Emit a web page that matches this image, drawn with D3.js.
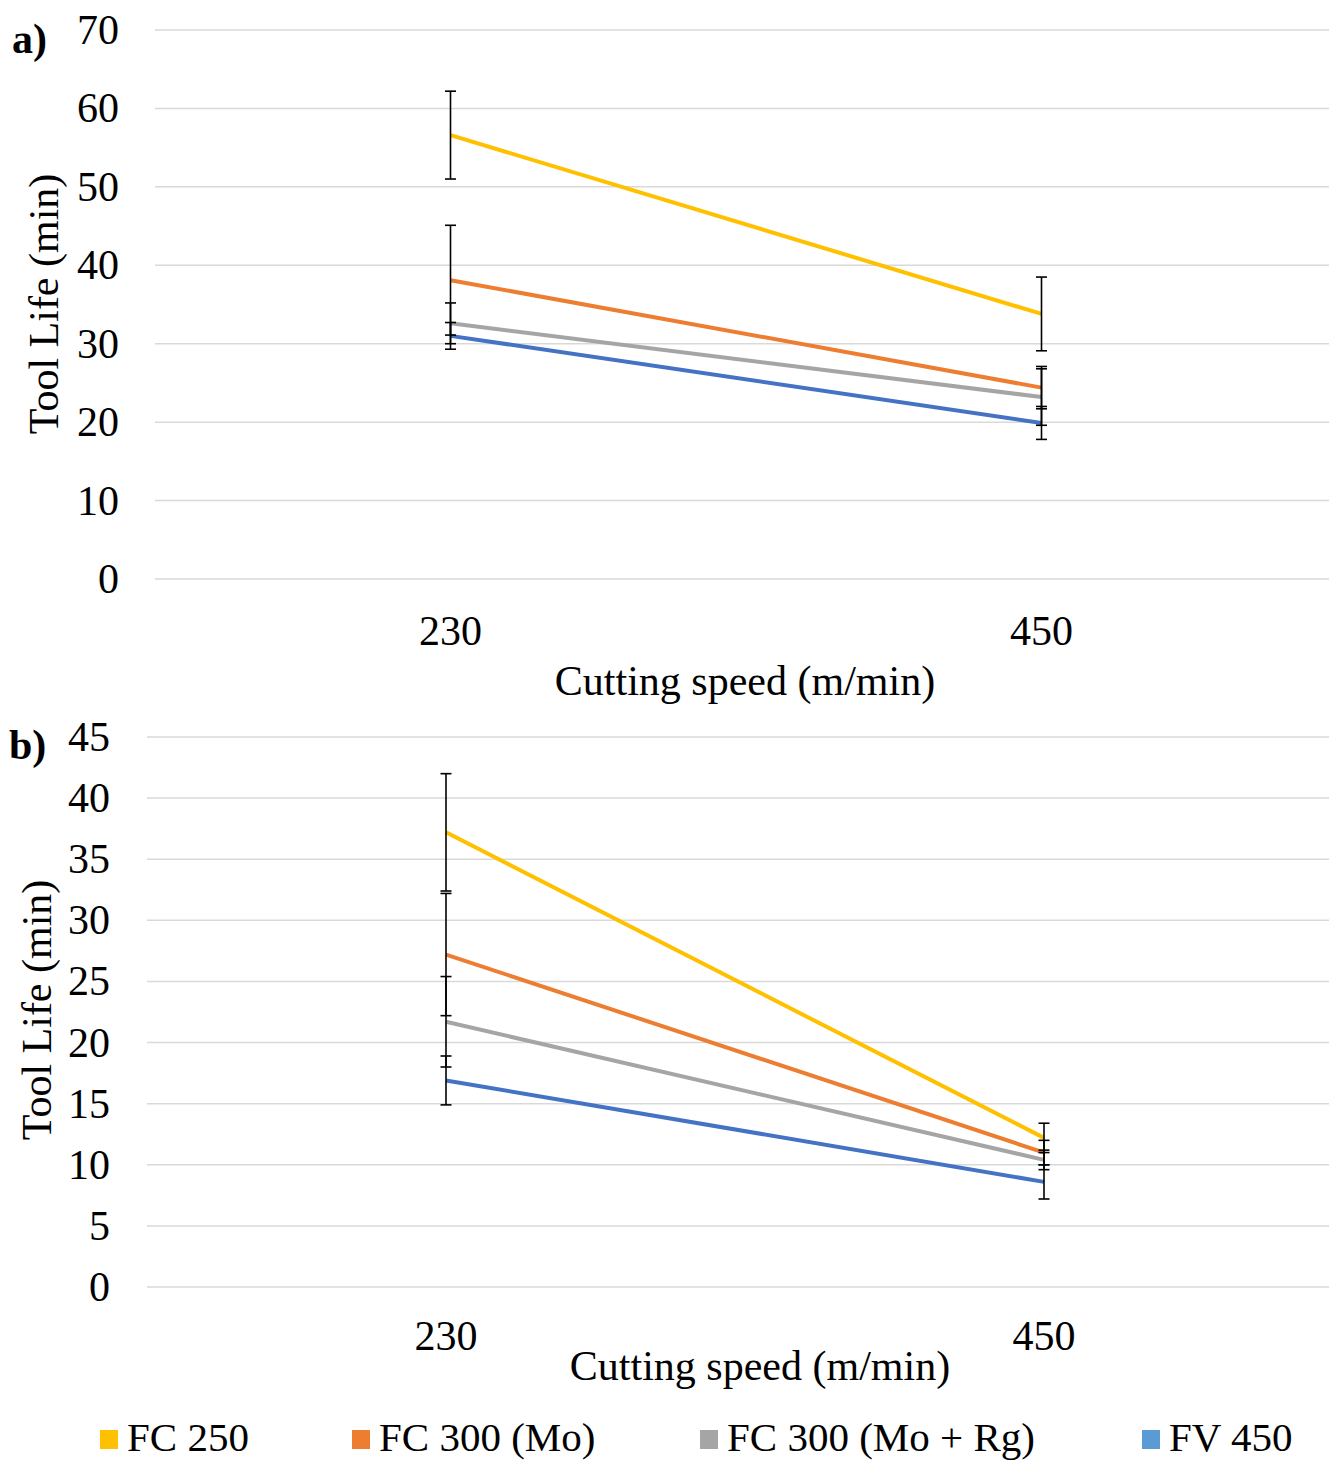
<!DOCTYPE html>
<html>
<head>
<meta charset="utf-8">
<script src="https://cdn.jsdelivr.net/npm/d3@7/dist/d3.min.js"></script>
<style>
  html, body { margin: 0; padding: 0; background: #fff; }
  svg { display: block; }
  text { font-family: "Liberation Serif", "Times New Roman", serif; fill: #000; }
</style>
</head>
<body>
<svg id="chart" width="1329" height="1462"></svg>
<script>
// Cutting speeds (m/min)
const speeds = ["230", "450"];
const seriesNames = ["FC 250", "FC 300 (Mo)", "FC 300 (Mo + Rg)", "FV 450"];
const lineColors = ["#FFC000", "#ED7D31", "#A5A5A5", "#4472C4"];
const legendColors = ["#FFC000", "#ED7D31", "#A5A5A5", "#5B9BD5"];

// Panel a) tool life (min), mean and error per speed
const toolLifeA = [
  [56.6, 33.8],
  [38.1, 24.4],
  [32.6, 23.2],
  [31.0, 19.9]
];
const errorA = [
  [5.6, 4.7],
  [7.0, 2.7],
  [2.6, 3.6],
  [1.7, 2.1]
];
const ticksA = [0, 10, 20, 30, 40, 50, 60, 70];

// Panel b) tool life (min), mean and error per speed
const toolLifeB = [
  [37.2, 12.2],
  [27.2, 11.0],
  [21.7, 10.4],
  [16.9, 8.6]
];
const errorB = [
  [4.8, 1.2],
  [5.0, 1.0],
  [3.7, 0.8],
  [2.0, 1.4]
];
const ticksB = [0, 5, 10, 15, 20, 25, 30, 35, 40, 45];

const FONT = 42;
const svg = d3.select("#chart");

function panel(cfg) {
  const g = svg.append("g");
  const x = d3.scaleBand().domain(speeds).range([cfg.left, cfg.right]);
  const y = d3.scaleLinear().domain([0, cfg.max]).range([cfg.bottom, cfg.top]);

  // horizontal gridlines
  g.selectAll("line.grid").data(cfg.ticks).join("line")
    .attr("x1", cfg.left).attr("x2", 1329)
    .attr("y1", d => y(d)).attr("y2", d => y(d))
    .attr("stroke", "#d9d9d9").attr("stroke-width", 1.5);

  // value axis labels
  const yAxis = d3.axisLeft(y).tickValues(cfg.ticks).tickSize(0).tickPadding(0);
  const ya = g.append("g").attr("transform", `translate(${cfg.tickX},0)`).call(yAxis);
  ya.select(".domain").remove();
  ya.selectAll("text").attr("font-size", FONT).attr("dy", "0.32em");

  // category axis labels
  const xAxis = d3.axisBottom(x).tickSize(0).tickPadding(0);
  const xa = g.append("g").attr("transform", `translate(0,${cfg.catY})`).call(xAxis);
  xa.select(".domain").remove();
  xa.selectAll("text").attr("font-size", FONT).attr("dy", "0");

  const cx = d => x(d) + x.bandwidth() / 2;

  // series lines
  const line = d3.line().x((v, i) => cx(speeds[i])).y(v => y(v));
  g.selectAll("path.series").data(cfg.values).join("path")
    .attr("fill", "none")
    .attr("stroke", (d, i) => lineColors[i])
    .attr("stroke-width", 4)
    .attr("d", line);

  // error bars
  const bars = [];
  cfg.values.forEach((vals, s) => vals.forEach((v, i) => {
    bars.push({ x: cx(speeds[i]), lo: v - cfg.errors[s][i], hi: v + cfg.errors[s][i] });
  }));
  const eb = g.selectAll("g.err").data(bars).join("g");
  eb.append("line")
    .attr("x1", d => d.x).attr("x2", d => d.x)
    .attr("y1", d => y(d.lo)).attr("y2", d => y(d.hi))
    .attr("stroke", "#000").attr("stroke-width", 1.6);
  ["lo", "hi"].forEach(k => {
    eb.append("line")
      .attr("x1", d => d.x - 5.5).attr("x2", d => d.x + 5.5)
      .attr("y1", d => y(d[k])).attr("y2", d => y(d[k]))
      .attr("stroke", "#000").attr("stroke-width", 1.6);
  });

  // axis titles
  g.append("text")
    .attr("x", cfg.xTitleX).attr("y", cfg.xTitleY)
    .attr("text-anchor", "middle").attr("font-size", FONT)
    .text("Cutting speed (m/min)");
  g.append("text")
    .attr("transform", `translate(${cfg.yTitleX},${cfg.yTitleY}) rotate(-90)`)
    .attr("text-anchor", "middle").attr("font-size", FONT)
    .text("Tool Life (min)");

  // panel tag
  g.append("text")
    .attr("x", cfg.tagX).attr("y", cfg.tagY)
    .attr("font-size", FONT).attr("font-weight", "bold")
    .text(cfg.tag);
}

panel({
  tag: "a)", tagX: 12, tagY: 53,
  left: 155, right: 1337, top: 30, bottom: 579, max: 70,
  ticks: ticksA, tickX: 119, catY: 645,
  values: toolLifeA, errors: errorA,
  xTitleX: 745, xTitleY: 695, yTitleX: 58, yTitleY: 304
});

panel({
  tag: "b)", tagX: 9, tagY: 759,
  left: 147, right: 1343, top: 737, bottom: 1287, max: 45,
  ticks: ticksB, tickX: 110, catY: 1350,
  values: toolLifeB, errors: errorB,
  xTitleX: 760, xTitleY: 1380, yTitleX: 51, yTitleY: 1010
});

// legend
const legendX = [100, 352, 700, 1142];
const lg = svg.append("g").selectAll("g").data(seriesNames).join("g")
  .attr("transform", (d, i) => `translate(${legendX[i]},1430)`);
lg.append("rect").attr("x", 0).attr("y", 0).attr("width", 18).attr("height", 19)
  .attr("fill", (d, i) => legendColors[i]);
lg.append("text").attr("x", 27).attr("y", 21).attr("font-size", 41).text(d => d);
</script>
</body>
</html>
